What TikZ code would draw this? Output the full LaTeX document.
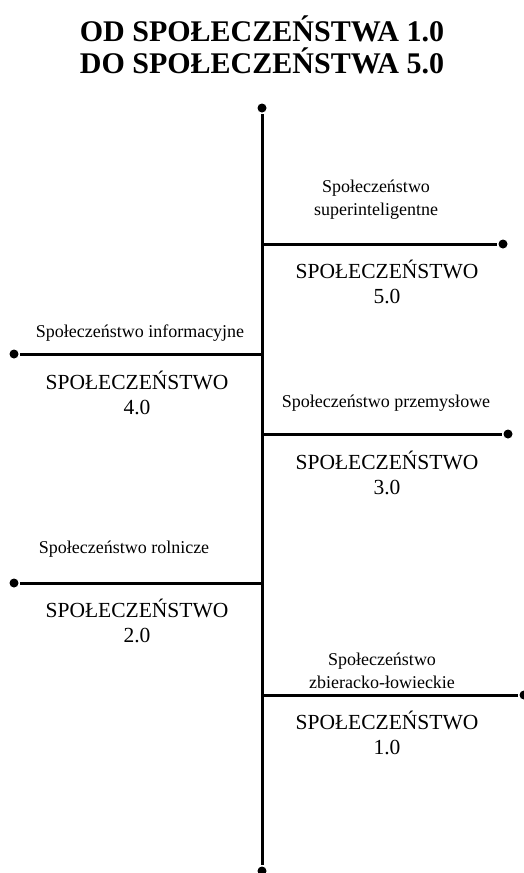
\documentclass[tikz,border=0pt]{standalone}
\usepackage{fontspec}
\setmainfont{Liberation Serif}
\newfontfamily\timesfont{Liberation Serif}
\usetikzlibrary{positioning}

\tikzset{
  dot/.style={circle, fill=black, inner sep=0pt, minimum size=9pt},
  era/.style={font=\timesfont\fontsize{21.5}{25}\selectfont, align=center},
  kind/.style={font=\timesfont\fontsize{18}{23}\selectfont, align=center},
}

\begin{document}
\begin{tikzpicture}[x=1pt, y=-1pt, line width=3pt]
                                \useasboundingbox (0, 0) rectangle (524, 873);
                                \node[font=\timesfont\fontsize{30}{32.5}\bfseries\selectfont, align=center] (title) at (262, 45) {OD SPOŁECZEŃSTWA 1.0\\DO SPOŁECZEŃSTWA 5.0};

                                \node[dot] (top) at (262, 108) {};
                                \node[dot] (bottom) at (262, 871) {};
                                \coordinate (a5) at (262, 244);
                                \coordinate (a4) at (262, 354);
                                \coordinate (a3) at (262, 434);
                                \coordinate (a2) at (262, 583);
                                \coordinate (a1) at (262, 695);
                                \node[dot] (e5) at (503, 244) {};
                                \node[dot] (e4) at (14, 354) {};
                                \node[dot] (e3) at (508, 434) {};
                                \node[dot] (e2) at (14, 583) {};
                                \node[dot] (e1) at (524, 695) {};

                                \draw (top) -- (bottom);
                                \draw (a5) -- (e5) (a4) -- (e4) (a3) -- (e3) (a2) -- (e2) (a1) -- (e1);

                                \node[kind] (k5) at (376, 200) {Społeczeństwo\\superinteligentne};
                                \node[kind] (k4) at (140, 333) {Społeczeństwo informacyjne};
                                \node[kind] (k3) at (386, 403) {Społeczeństwo przemysłowe};
                                \node[kind] (k2) at (124, 549) {Społeczeństwo rolnicze};
                                \node[kind] (k1) at (382, 671) {Społeczeństwo\\zbieracko-łowieckie};

                                \node[era] (s5) at (387, 282) {SPOŁECZEŃSTWO\\5.0};
                                \node[era] (s4) at (137, 393) {SPOŁECZEŃSTWO\\4.0};
                                \node[era] (s3) at (387, 473) {SPOŁECZEŃSTWO\\3.0};
                                \node[era] (s2) at (137, 621) {SPOŁECZEŃSTWO\\2.0};
                                \node[era] (s1) at (387, 733) {SPOŁECZEŃSTWO\\1.0};
                            \end{tikzpicture}
\end{document}
